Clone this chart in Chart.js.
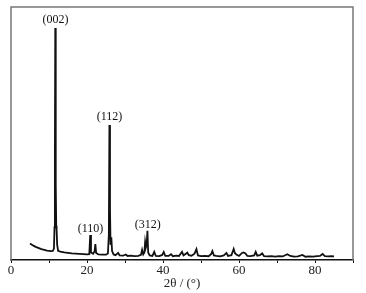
<!DOCTYPE html>
<html>
<head>
<meta charset="utf-8">
<script src="https://cdn.jsdelivr.net/npm/chart.js@4"></script>
<style>
  html, body { margin: 0; padding: 0; background: #fff; }
  #wrap { width: 366px; height: 293px; }
</style>
</head>
<body>
<div id="wrap"><canvas id="xrd"></canvas></div>
<script>
// 2theta (deg) and intensity (a.u.)
const twoTheta = [
  5.0, 5.5, 6, 6.5, 7, 7.5, 8, 8.5, 9, 9.5, 10, 10.5, 11, 11.3, 11.45, 11.55, 11.65, 11.75, 11.8, 11.9,
  12.0, 12.15, 12.4, 13, 14, 15, 16, 17, 18, 19, 20, 20.6, 20.85, 21.05, 21.6, 22.0, 22.2, 22.4, 23, 24,
  25, 25.5, 25.75, 25.9, 26.05, 26.2, 26.4, 26.6, 27, 27.5, 28.2, 28.6, 29.5, 30.2, 30.7, 31.5, 32.5, 33.5, 34.2, 34.5,
  34.8, 35.1, 35.3, 35.5, 35.7, 35.9, 36.1, 36.5, 37.2, 37.7, 38.1, 39, 39.8, 40.2, 40.6, 41.5, 42.1, 42.6, 43.5, 44.2,
  45, 45.4, 46.4, 46.8, 47.5, 48.3, 48.8, 49.2, 50, 51, 52, 52.7, 53, 53.4, 54, 55, 56, 56.7, 57.1, 58,
  58.6, 58.9, 59.3, 60, 60.8, 61.2, 61.7, 62.2, 63, 64, 64.4, 64.8, 65.5, 66.1, 66.6, 67.5, 68.5, 69.5, 70.5, 71.5,
  72.7, 73.5, 74.5, 75.5, 76.7, 77.5, 78.5, 79.5, 80.5, 81.3, 82, 82.6, 83.5, 84.3, 85
];
const intensity = [
  6.5, 6.0, 5.6, 5.2, 4.9, 4.6, 4.3, 4.1, 3.9, 3.7, 3.6, 3.5, 3.6, 4.5, 13, 40, 91.7, 60, 30, 13.5,
  12, 6, 3.6, 3.3, 3.0, 2.8, 2.6, 2.5, 2.4, 2.3, 2.2, 2.3, 9.9, 3, 2.5, 3.5, 6.3, 2.8, 2.2, 2.1,
  2.1, 2.6, 10, 53.4, 20, 6, 9, 3.5, 2.2, 1.9, 2.8, 1.8, 1.7, 2.2, 1.6, 1.7, 1.5, 1.6, 2.0, 4.0,
  2.2, 3, 7.1, 5, 6, 11.5, 3, 1.8, 1.6, 3.2, 1.6, 1.5, 2.0, 3.2, 1.6, 1.6, 2.3, 1.5, 1.7, 1.6,
  3.2, 1.8, 2.9, 1.9, 1.7, 2.5, 4.3, 1.8, 1.5, 1.6, 1.5, 2.4, 3.5, 1.8, 1.6, 1.4, 1.8, 2.8, 1.6, 1.9,
  4.4, 2.8, 2.2, 1.6, 2.8, 3.0, 2.6, 1.6, 1.5, 1.8, 3.2, 1.7, 1.9, 2.6, 1.5, 1.4, 1.5, 1.3, 1.5, 1.4,
  2.3, 1.6, 1.3, 1.4, 2.0, 1.3, 1.4, 1.3, 1.5, 1.6, 2.4, 1.5, 1.4, 1.5, 1.4
];
// peak labels: text, 2theta, intensity of the label baseline
const peakNames = ['(002)', '(112)', '(110)', '(312)'];
const peakX = [11.7, 25.9, 20.9, 36.0];
const peakY = [93.6, 55.2, 10.9, 12.8];

const xTicks = [0, 20, 40, 60, 80];

const points = twoTheta.map((t, i) => ({ x: t, y: intensity[i] }));

// frame + peak labels
const framePlugin = {
  id: 'frame',
  afterDraw(chart) {
    const { ctx, chartArea: a, scales } = chart;
    ctx.save();
    ctx.strokeStyle = '#777';
    ctx.lineWidth = 1.5;
    ctx.beginPath();
    ctx.moveTo(a.left, a.bottom);
    ctx.lineTo(a.left, a.top);
    ctx.lineTo(a.right, a.top);
    ctx.lineTo(a.right, a.bottom);
    ctx.stroke();
    ctx.fillStyle = '#111';
    ctx.font = '12px "Liberation Serif"';
    ctx.textAlign = 'center';
    ctx.textBaseline = 'alphabetic';
    peakNames.forEach((name, i) => {
      ctx.fillText(name, scales.x.getPixelForValue(peakX[i]), scales.y.getPixelForValue(peakY[i]));
    });
    ctx.restore();
  }
};

new Chart(document.getElementById('xrd'), {
  type: 'scatter',
  data: {
    datasets: [{
      data: points,
      showLine: true,
      borderColor: '#111',
      borderWidth: 1.8,
      pointRadius: 0,
      tension: 0
    }]
  },
  options: {
    responsive: true,
    maintainAspectRatio: false,
    animation: false,
    layout: { padding: { left: 11, right: 13, top: 7, bottom: 0 } },
    plugins: { legend: { display: false }, tooltip: { enabled: false } },
    scales: {
      x: {
        type: 'linear',
        min: 0,
        max: 90,
        border: { display: true, color: '#111', width: 1.5 },
        grid: { drawOnChartArea: false, drawTicks: true, tickLength: 3, color: '#111' },
        ticks: {
          stepSize: 10,
          padding: 0,
          color: '#222',
          font: { family: 'Liberation Serif', size: 13 },
          maxRotation: 0,
          callback: v => xTicks.includes(v) ? String(v) : ''
        },
        title: {
          display: true,
          text: '2θ / (°)',
          color: '#222',
          padding: { top: 0, bottom: 2 },
          font: { family: 'Liberation Serif', size: 13 }
        },
        afterFit: s => { s.height = 33; }
      },
      y: {
        display: false,
        min: 0,
        max: 100
      }
    }
  },
  plugins: [framePlugin]
});
</script>
</body>
</html>
